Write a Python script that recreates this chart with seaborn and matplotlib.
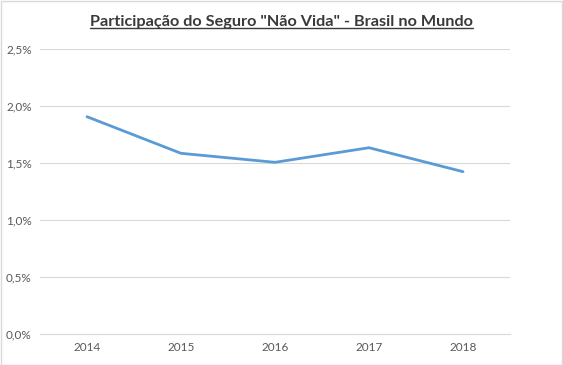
import matplotlib
matplotlib.use('Agg')
import matplotlib.pyplot as plt
import matplotlib.ticker as mticker
import seaborn as sns
import pandas as pd
from matplotlib.lines import Line2D

# --- data ---
years = ['2014', '2015', '2016', '2017', '2018']
share = [1.906, 1.585, 1.506, 1.634, 1.424]   # % participation
y_ticks = [0.0, 0.5, 1.0, 1.5, 2.0, 2.5]

df = pd.DataFrame({'ano': years, 'share': share})

sns.set_theme(style='white')
plt.rcParams['font.family'] = ['Lato', 'DejaVu Sans']

fig = plt.figure(figsize=(5.63, 3.65), dpi=100)
ax = fig.add_axes([40 / 563, 31 / 365, 470 / 563, 285 / 365])

sns.lineplot(data=df, x='ano', y='share', ax=ax, color='#5B9BD5',
             linewidth=2.0, sort=False)

ax.set_xlim(-0.5, len(years) - 0.5)
ax.set_ylim(0, 2.5)
ax.set_yticks(y_ticks)
ax.yaxis.set_major_formatter(mticker.FuncFormatter(
    lambda v, p: f'{v:.1f}%'.replace('.', ',')))
ax.grid(axis='y', color='#D9D9D9', linewidth=0.8)
ax.set_axisbelow(True)
for s in ['top', 'right', 'left']:
    ax.spines[s].set_visible(False)
ax.spines['bottom'].set_color('#D9D9D9')
ax.spines['bottom'].set_linewidth(0.8)
ax.tick_params(axis='both', length=0, labelsize=8.5, colors='#595959', pad=6)
ax.set_xlabel('')
ax.set_ylabel('')

# title with underline
t = fig.text(0.5, 1 - 22 / 365, 'Participação do Seguro "Não Vida" - Brasil no Mundo',
             ha='center', va='center', fontsize=11.7, fontweight='bold', color='#3A3A3A')
fig.canvas.draw()
bb = t.get_window_extent().transformed(fig.transFigure.inverted())
fig.add_artist(Line2D([bb.x0, bb.x1], [bb.y0 + 0.002, bb.y0 + 0.002],
                      transform=fig.transFigure, color='#3A3A3A', linewidth=1))

# chart border
fig.add_artist(plt.Rectangle((0.001, 0.001), 0.997, 0.996, transform=fig.transFigure,
                             fill=False, edgecolor='#D9D9D9', linewidth=1))

fig.savefig('out.png', dpi=100)
